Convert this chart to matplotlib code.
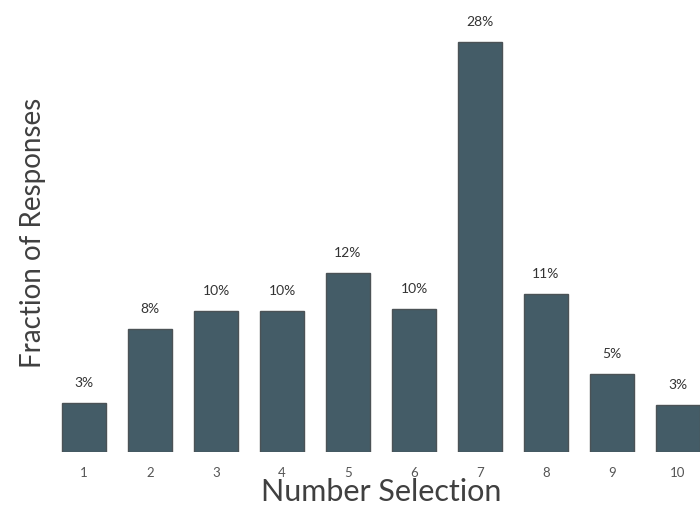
import matplotlib
matplotlib.use("Agg")
import matplotlib.pyplot as plt

categories = ["1", "2", "3", "4", "5", "6", "7", "8", "9", "10"]
values = [3.37, 8.43, 9.66, 9.66, 12.22, 9.75, 28.0, 10.82, 5.31, 3.19]
value_labels = ["3%", "8%", "10%", "10%", "12%", "10%", "28%", "11%", "5%", "3%"]

plt.rcParams['font.family'] = ['Lato', 'DejaVu Sans']

fig = plt.figure(figsize=(7.0, 5.18), dpi=100)
ax = fig.add_axes([0, 66/518, 1, 452/518])

x = list(range(1, len(categories) + 1))
bars = ax.bar(x, values, width=0.667, color='#445c67', edgecolor='#4b5256', linewidth=1.0)

for xi, v, lab in zip(x, values, value_labels):
    ax.annotate(lab, (xi, v), xytext=(0, 10), textcoords='offset points',
                ha='center', va='bottom', fontsize=10, color='#333333')

ax.set_xlim(1 - 84/66, 1 + (700 - 84)/66)
ax.set_ylim(0, 28.0 * 452 / 410)
ax.set_xticks(x)
ax.set_xticklabels(categories, fontsize=9.5, color='#555555')
ax.tick_params(axis='x', length=0, pad=11)
ax.set_yticks([])
for s in ax.spines.values():
    s.set_visible(False)

fig.text(381/700, 1 - 501/518, "Number Selection", ha='center', va='baseline',
         fontsize=22, color='#404040')
fig.text(33/700, 1 - 233/518, "Fraction of Responses", ha='center', va='center',
         rotation=90, fontsize=20, color='#404040')

fig.savefig("out.png", dpi=100)
